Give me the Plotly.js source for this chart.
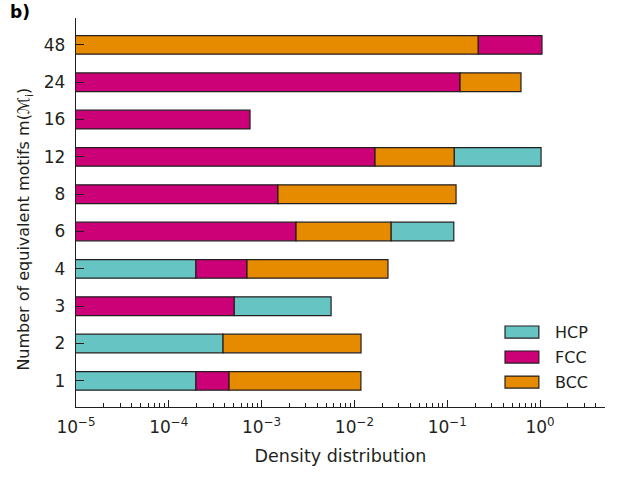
<!DOCTYPE html>
<html>
<head>
<meta charset="utf-8">
<script src="https://cdn.plot.ly/plotly-3.0.1.min.js"></script>
<style>html,body{margin:0;padding:0;background:#fff;}#chart{width:626px;height:479px;}</style>
</head>
<body>
<div id="chart"></div>
<script>
// Categories: number of equivalent motifs
var categories = ["1", "2", "3", "4", "6", "8", "12", "16", "24", "48"];
// Density distribution per structure type (0 = absent)
var hcp = [1.96e-4, 3.84e-4, 5.1e-3, 1.96e-4, 0.093, 0, 0.907, 0, 0, 0];
var fcc = [2.5e-4, 0, 5.05e-4, 5.0e-4, 2.35e-3, 1.50e-3, 0.01667, 7.5e-4, 0.1375, 0.835];
var bcc = [0.0113, 0.0114, 0, 0.0223, 0.0224, 0.123, 0.102, 0, 0.486, 0.215];
var seriesNames = ["HCP", "FCC", "BCC"];
var seriesColors = ["#66c5c2", "#cc0077", "#e68a00"];
// x-axis decade tick exponents
var decades = [-5, -4, -3, -2, -1, 0];

var series = [hcp, fcc, bcc];
// Stack each row in ascending order of value
var bases = series.map(function(){ return categories.map(function(){ return 0; }); });
categories.forEach(function(c, i){
  var idx = [0,1,2].filter(function(k){ return series[k][i] > 0; });
  idx.sort(function(a,b){ return series[a][i] - series[b][i]; });
  var cum = 0;
  idx.forEach(function(k){ bases[k][i] = cum; cum += series[k][i]; });
});

var edge = "#231f20";
var traces = series.map(function(vals, k){
  var x = [], y = [], b = [];
  categories.forEach(function(c, i){
    if (vals[i] > 0) { x.push(vals[i]); y.push(c); b.push(bases[k][i]); }
  });
  return {
    type: "bar", orientation: "h", name: seriesNames[k],
    x: x, y: y, base: b, width: 0.5, showlegend: false,
    marker: {color: seriesColors[k], line: {color: edge, width: 1.2}},
    hoverinfo: "x+y+name"
  };
});

var fam = "DejaVu Sans, sans-serif";
var font = {family: fam, size: 17, color: "#231f20"};

// Legend drawn as patches + labels (paper coords inside the plot area)
var shapes = [], annotations = [];
var legX0 = 0.811, legX1 = 0.875, legTop = 0.2082, patchH = 0.0309, step = 0.0643;
seriesNames.forEach(function(n, k){
  var top = legTop - k * step;
  shapes.push({type: "rect", xref: "paper", yref: "paper", x0: legX0, x1: legX1,
    y0: top - patchH, y1: top, fillcolor: seriesColors[k], line: {color: edge, width: 1.2}});
  annotations.push({text: n, xref: "paper", yref: "paper", x: 0.902, y: top - patchH / 2,
    xanchor: "left", yanchor: "middle", showarrow: false,
    font: {family: fam, size: 16, color: "#231f20"}});
});
annotations.push({
  text: "<b>b)</b>", xref: "paper", yref: "paper", x: -0.128, y: 1.047,
  xanchor: "left", yanchor: "top", showarrow: false,
  font: {family: fam, size: 17, color: "#000"}
});
// y-axis title as a rotated annotation
annotations.push({
  text: "Number of equivalent motifs m(\u2133<sub>i</sub>)", xref: "paper", yref: "paper",
  x: -0.0964, y: 0.456, xanchor: "center", yanchor: "middle", textangle: -90,
  showarrow: false, font: {family: fam, size: 16, color: "#231f20"}
});

var layout = {
  width: 626, height: 479,
  margin: {l: 76, r: 21, t: 18, b: 72},
  paper_bgcolor: "#fff", plot_bgcolor: "#fff",
  barmode: "overlay",
  font: font,
  showlegend: false,
  xaxis: {
    type: "log", range: [-5, 0.7],
    tickmode: "array",
    tickvals: decades.map(function(e){ return Math.pow(10, e); }),
    ticktext: decades.map(function(e){ return "10<sup>" + (e < 0 ? "\u2212" + (-e) : e) + "</sup>"; }),
    ticks: "inside", ticklen: 7, tickwidth: 1, tickcolor: edge,
    ticklabelstandoff: 4,
    minor: {ticks: "inside", ticklen: 4, tickwidth: 1, tickcolor: edge, dtick: "D1"},
    showline: true, linecolor: edge, linewidth: 1.3,
    showgrid: false, zeroline: false,
    title: {text: "Density distribution", font: {family: fam, size: 17.5, color: "#231f20"}, standoff: 14},
    tickfont: {family: fam, size: 17, color: "#231f20"}
  },
  yaxis: {
    type: "category", categoryarray: categories, categoryorder: "array",
    range: [-0.7, 9.72],
    ticks: "inside", ticklen: 8, tickwidth: 1, tickcolor: edge,
    ticklabelstandoff: 6,
    showline: true, linecolor: edge, linewidth: 1.3,
    showgrid: false, zeroline: false,
    tickfont: {family: fam, size: 17, color: "#231f20"}
  },
  shapes: shapes,
  annotations: annotations
};

Plotly.newPlot("chart", traces, layout, {displayModeBar: false, staticPlot: true});
</script>
</body>
</html>
